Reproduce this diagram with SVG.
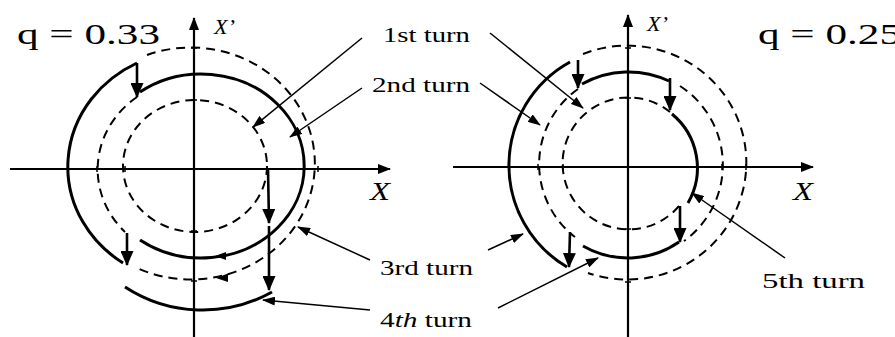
<svg xmlns="http://www.w3.org/2000/svg" width="895" height="337" viewBox="0 0 895 337">
<style>
.ax{stroke:#000;stroke-width:2.2;fill:none}
.sol{stroke:#000;stroke-width:3;fill:none}
.dsh{stroke:#000;stroke-width:2;fill:none;stroke-dasharray:9 6}
.kick{stroke:#000;stroke-width:2.6;fill:none}
.ld{stroke:#000;stroke-width:1.5;fill:none}
.tk{stroke:#000;stroke-width:1.5}
.lbl{font-family:"Liberation Serif","Times New Roman",serif;font-size:21px;fill:#000}
.q{font-family:"Liberation Serif","Times New Roman",serif;font-size:30px;fill:#000}
.ax-l{font-family:"Liberation Serif","Times New Roman",serif;font-style:italic;fill:#000}
</style>
<defs>
<marker id="ah" viewBox="0 0 13 10" refX="12" refY="5" markerWidth="13" markerHeight="10" markerUnits="userSpaceOnUse" orient="auto"><path d="M0,0 L13,5 L0,10 z" fill="#000"/></marker>
<marker id="kh" viewBox="0 0 15 13" refX="14" refY="6.5" markerWidth="15" markerHeight="13" markerUnits="userSpaceOnUse" orient="auto"><path d="M0,0 L15,6.5 L0,13 z" fill="#000"/></marker>
<marker id="lh" viewBox="0 0 13 9" refX="12" refY="4.5" markerWidth="13" markerHeight="9" markerUnits="userSpaceOnUse" orient="auto"><path d="M0,0 L13,4.5 L0,9 z" fill="#000"/></marker>
</defs>

<g id="left-plot">
  <g id="left-axes">
    <line class="ax" x1="10" y1="169" x2="390" y2="169" marker-end="url(#ah)"/>
    <line class="ax" x1="194" y1="337" x2="194" y2="18" marker-end="url(#ah)"/>
    <path class="tk" d="M191,48 h6 M191,100 h6 M191,231 h6 M191,281 h6 M97,166 v6 M125,166 v6 M267,166 v6 M318,166 v6"/>
    <text class="ax-l" x="214" y="34" font-size="20" textLength="21" lengthAdjust="spacingAndGlyphs">X’</text>
    <text class="ax-l" x="370" y="200" font-size="25" textLength="20" lengthAdjust="spacingAndGlyphs">X</text>
  </g>
  <g id="left-curves">
    <ellipse class="dsh" cx="195" cy="166" rx="72" ry="66"/>
    <path class="sol" d="M140,92 A103,92 0 1 1 140,240"/>
    <path class="sol" d="M137,63 A125,116 0 0 0 123,263"/>
    <path class="dsh" d="M147,55 A124,116 0 1 1 137,268"/>
    <path class="dsh" d="M137,97 A97,90 0 0 0 125,232"/>
    <path class="sol" d="M125,287 A142,142 0 0 0 272,292"/>
    <polygon points="215,256 226,252 226,260" fill="#000"/>
    <polygon points="216,278 228,273.5 228,282" fill="#000"/>
  </g>
  <g id="left-kicks">
    <line class="kick" x1="268" y1="169" x2="269" y2="223" marker-end="url(#kh)"/>
    <line class="kick" x1="269" y1="226" x2="269" y2="290" marker-end="url(#kh)"/>
    <line class="kick" x1="137" y1="63" x2="137" y2="97" marker-end="url(#kh)"/>
    <line class="kick" x1="127" y1="233" x2="127" y2="265" marker-end="url(#kh)"/>
  </g>
  <text class="q" x="17" y="44" textLength="143" lengthAdjust="spacingAndGlyphs">q = 0.33</text>
</g>

<g id="right-plot">
  <g id="right-axes">
    <line class="ax" x1="453" y1="167" x2="813" y2="167" marker-end="url(#ah)"/>
    <line class="ax" x1="628" y1="337" x2="628" y2="15" marker-end="url(#ah)"/>
    <path class="tk" d="M625,48 h6 M625,98 h6 M625,229 h6 M625,282 h6 M538,164 v6 M563,164 v6 M722,164 v6 M746,164 v6"/>
    <text class="ax-l" x="647" y="31" font-size="20" textLength="21" lengthAdjust="spacingAndGlyphs">X’</text>
    <text class="ax-l" x="793" y="200" font-size="25" textLength="20" lengthAdjust="spacingAndGlyphs">X</text>
  </g>
  <g id="right-curves">
    <path class="sol" d="M570,62 A118,118 0 0 0 567,267"/>
    <path class="dsh" d="M583,54 A119,117 0 1 1 588,273"/>
    <path class="dsh" d="M680,86 A94,94 0 0 1 684,241"/>
    <path class="dsh" d="M578,89 A92,92 0 0 0 575,237"/>
    <path class="dsh" d="M670,112 A66,66 0 1 0 679,206"/>
    <path class="sol" d="M672,114 A70,70 0 0 1 688,203"/>
    <path class="sol" d="M582,84 A95,95 0 0 1 669,81"/>
    <path class="sol" d="M583,246 A90,90 0 0 0 679,242"/>
  </g>
  <g id="right-kicks">
    <line class="kick" x1="578" y1="60" x2="578" y2="88" marker-end="url(#kh)"/>
    <line class="kick" x1="670" y1="78" x2="670" y2="110" marker-end="url(#kh)"/>
    <line class="kick" x1="570" y1="232" x2="569" y2="267" marker-end="url(#kh)"/>
    <line class="kick" x1="680" y1="206" x2="680" y2="242" marker-end="url(#kh)"/>
  </g>
  <text class="q" x="758" y="44" textLength="143" lengthAdjust="spacingAndGlyphs">q = 0.25</text>
</g>

<g id="connectors">
  <line class="ld" x1="362" y1="38" x2="253" y2="127" marker-end="url(#lh)"/>
  <line class="ld" x1="362" y1="88" x2="290" y2="137" marker-end="url(#lh)"/>
  <line class="ld" x1="370" y1="260" x2="298" y2="227" marker-end="url(#lh)"/>
  <line class="ld" x1="370" y1="310" x2="263" y2="300" marker-end="url(#lh)"/>
  <line class="ld" x1="490" y1="33" x2="583" y2="108" marker-end="url(#lh)"/>
  <line class="ld" x1="480" y1="83" x2="540" y2="125" marker-end="url(#lh)"/>
  <line class="ld" x1="488" y1="250" x2="523" y2="234" marker-end="url(#lh)"/>
  <line class="ld" x1="498" y1="308" x2="598" y2="258" marker-end="url(#lh)"/>
  <line class="ld" x1="785" y1="258" x2="692" y2="193" marker-end="url(#lh)"/>
</g>

<g id="labels">
  <g id="label-1st"><text class="lbl" x="383" y="42" textLength="87" lengthAdjust="spacingAndGlyphs">1st turn</text></g>
  <g id="label-2nd"><text class="lbl" x="372" y="92" textLength="98" lengthAdjust="spacingAndGlyphs">2nd turn</text></g>
  <g id="label-3rd"><text class="lbl" x="380" y="275" textLength="93" lengthAdjust="spacingAndGlyphs">3rd turn</text></g>
  <g id="label-4th"><text class="lbl" x="380" y="327" textLength="92" lengthAdjust="spacingAndGlyphs">4<tspan font-style="italic">th</tspan> turn</text></g>
  <g id="label-5th"><text class="lbl" x="762" y="288" textLength="103" lengthAdjust="spacingAndGlyphs">5th turn</text></g>
</g>
</svg>
